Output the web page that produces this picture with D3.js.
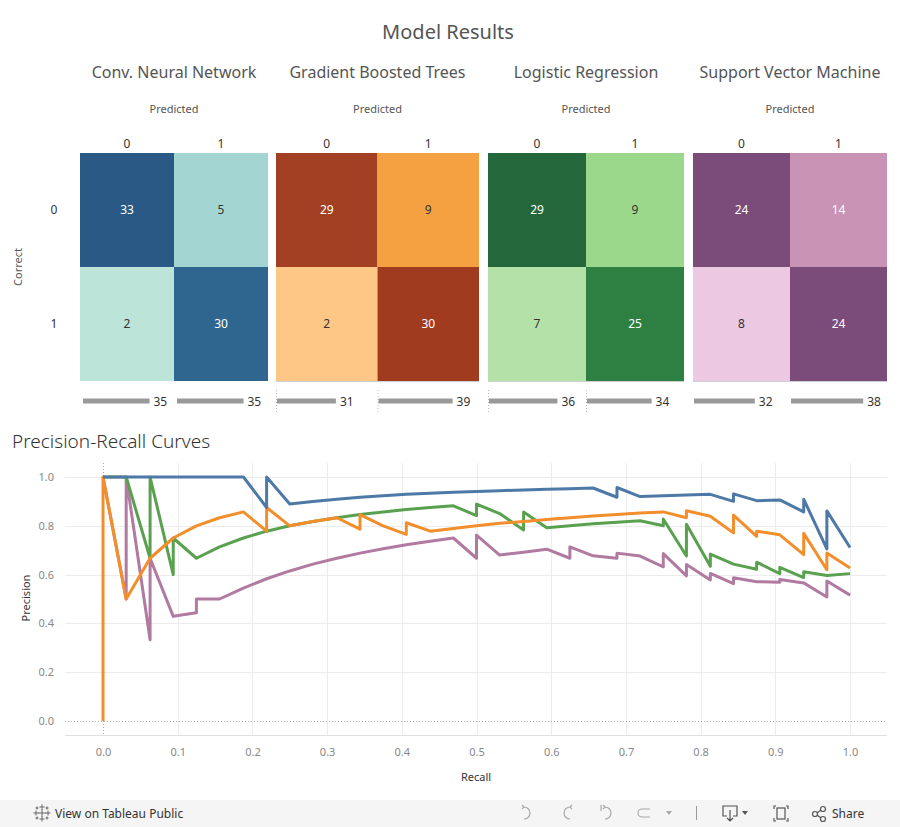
<!DOCTYPE html>
<html><head><meta charset="utf-8">
<script src="https://cdn.jsdelivr.net/npm/d3@7/dist/d3.min.js"></script>
<style>
body{margin:0;background:#fff;}
svg{display:block;font-family:"Noto Sans","Open Sans",sans-serif;}
</style>
</head><body>
<svg id="chart" width="900" height="827"></svg>
<script>
// ---------------- DATA ----------------
const models = ["Conv. Neural Network", "Gradient Boosted Trees", "Logistic Regression", "Support Vector Machine"];
const classes = ["0", "1"];
// confusion matrices, row-major: [correct0/pred0, correct0/pred1, correct1/pred0, correct1/pred1]
const cnnMatrix = [33, 5, 2, 30];
const gbtMatrix = [29, 9, 2, 30];
const lrMatrix  = [29, 9, 7, 25];
const svmMatrix = [24, 14, 8, 24];
// predicted totals per column (bars under each matrix)
const cnnTotals = [35, 35];
const gbtTotals = [31, 39];
const lrTotals  = [36, 34];
const svmTotals = [32, 38];

const xTicks = [0, 0.1, 0.2, 0.3, 0.4, 0.5, 0.6, 0.7, 0.8, 0.9, 1.0];
const yTicks = [0, 0.2, 0.4, 0.6, 0.8, 1.0];

// precision-recall curves: [recall, precision]
const cnnCurve = [[0,1],[0.031,1],[0.063,1],[0.094,1],[0.125,1],[0.156,1],[0.188,1],[0.219,0.875],[0.219,1],
  [0.25,0.889],[0.281,0.9],[0.313,0.909],[0.344,0.917],[0.375,0.923],[0.406,0.929],[0.438,0.933],[0.469,0.938],
  [0.5,0.941],[0.531,0.944],[0.563,0.947],[0.594,0.95],[0.625,0.952],[0.656,0.955],[0.688,0.917],[0.688,0.957],
  [0.719,0.92],[0.75,0.923],[0.781,0.926],[0.813,0.929],[0.844,0.9],[0.844,0.931],[0.875,0.903],[0.906,0.906],
  [0.938,0.857],[0.938,0.909],[0.969,0.705],[0.969,0.861],[1,0.711]];
const gbtCurve = [[0,0],[0,1],[0.031,0.5],[0.063,0.667],[0.094,0.75],[0.125,0.8],[0.156,0.833],[0.188,0.857],
  [0.219,0.778],[0.219,0.875],[0.25,0.8],[0.281,0.818],[0.313,0.833],[0.344,0.786],[0.344,0.846],[0.375,0.8],
  [0.406,0.765],[0.406,0.8125],[0.438,0.778],[0.469,0.789],[0.5,0.8],[0.531,0.81],[0.563,0.818],[0.594,0.826],
  [0.625,0.833],[0.656,0.84],[0.688,0.846],[0.719,0.852],[0.75,0.857],[0.781,0.833],[0.781,0.862],[0.813,0.839],
  [0.844,0.771],[0.844,0.844],[0.875,0.757],[0.875,0.778],[0.906,0.763],[0.938,0.682],[0.938,0.769],
  [0.969,0.62],[0.969,0.689],[1,0.627]];
const lrCurve = [[0,1],[0.031,1],[0.063,0.667],[0.063,1],[0.094,0.6],[0.094,0.75],[0.125,0.667],[0.156,0.714],
  [0.188,0.75],[0.219,0.778],[0.25,0.8],[0.281,0.818],[0.313,0.833],[0.344,0.846],[0.375,0.857],[0.406,0.867],
  [0.438,0.875],[0.469,0.882],[0.5,0.842],[0.5,0.889],[0.531,0.85],[0.563,0.783],[0.563,0.857],[0.594,0.792],
  [0.625,0.8],[0.656,0.808],[0.688,0.815],[0.719,0.821],[0.75,0.8],[0.75,0.828],[0.781,0.676],[0.781,0.806],
  [0.813,0.634],[0.813,0.684],[0.844,0.643],[0.875,0.622],[0.875,0.651],[0.906,0.604],[0.906,0.63],
  [0.938,0.588],[0.938,0.612],[0.969,0.596],[1,0.604]];
const svmCurve = [[0,1],[0.031,0.5],[0.031,1],[0.063,0.333],[0.063,0.667],[0.094,0.429],[0.125,0.444],[0.125,0.5],
  [0.156,0.5],[0.188,0.545],[0.219,0.583],[0.25,0.615],[0.281,0.643],[0.313,0.667],[0.344,0.688],[0.375,0.706],
  [0.406,0.722],[0.438,0.737],[0.469,0.75],[0.5,0.667],[0.5,0.762],[0.531,0.68],[0.563,0.692],[0.594,0.704],
  [0.625,0.667],[0.625,0.714],[0.656,0.677],[0.688,0.667],[0.688,0.688],[0.719,0.676],[0.75,0.632],[0.75,0.686],
  [0.781,0.595],[0.781,0.641],[0.813,0.578],[0.813,0.605],[0.844,0.563],[0.844,0.587],[0.875,0.571],
  [0.906,0.569],[0.906,0.58],[0.938,0.566],[0.969,0.508],[0.969,0.574],[1,0.516]];

// ---------------- STYLE / LAYOUT ----------------
const matrices = [cnnMatrix, gbtMatrix, lrMatrix, svmMatrix];
const totals = [cnnTotals, gbtTotals, lrTotals, svmTotals];
const curves = [cnnCurve, gbtCurve, lrCurve, svmCurve];
const cellColors = [
  ["#2b5985", "#a3d6d3", "#bce4d9", "#2e6690"],
  ["#a33f22", "#f5a142", "#fec786", "#a03b20"],
  ["#23673b", "#9bd88b", "#b4e1a7", "#2e8042"],
  ["#7b4c79", "#c893b5", "#ecc8e3", "#7b4c79"]
];
const cellText = [
  ["#fff", "#333", "#333", "#fff"],
  ["#fff", "#333", "#333", "#fff"],
  ["#fff", "#333", "#333", "#fff"],
  ["#fff", "#fff", "#333", "#fff"]
];
const lineColors = ["#4e79a7", "#f28e2b", "#59a14f", "#b07aa1"];
const panelEdges = [[80, 268], [276, 479], [488, 684], [693, 887]];

const svg = d3.select("#chart");

// Title
svg.append("text").attr("x", 448).attr("y", 39).attr("text-anchor", "middle")
  .attr("font-size", 20).attr("fill", "#555").text("Model Results");

// Row axis label
svg.append("text").attr("transform", "translate(22,267) rotate(-90)").attr("text-anchor", "middle")
  .attr("font-size", 11).attr("fill", "#555").text("Correct");

const yBand = d3.scaleBand().domain(classes).range([153, 381]);
classes.forEach(c => {
  svg.append("text").attr("x", 54).attr("y", yBand(c) + yBand.bandwidth() / 2 + 4)
    .attr("text-anchor", "middle").attr("font-size", 12).attr("fill", "#333").text(c);
});

const barScale = d3.scaleLinear().domain([0, 40]).range([0, 76]);

models.forEach((m, i) => {
  const [x0, x1] = panelEdges[i];
  const xb = d3.scaleBand().domain(classes).range([x0, x1]);
  const cx = (x0 + x1) / 2;
  svg.append("text").attr("x", cx).attr("y", 78).attr("text-anchor", "middle")
    .attr("font-size", 16).attr("fill", "#555").text(m);
  svg.append("text").attr("x", cx).attr("y", 113).attr("text-anchor", "middle")
    .attr("font-size", 11).attr("fill", "#555").text("Predicted");
  classes.forEach(c => {
    svg.append("text").attr("x", xb(c) + xb.bandwidth() / 2).attr("y", 148).attr("text-anchor", "middle")
      .attr("font-size", 12).attr("fill", "#333").text(c);
  });
  const cells = [];
  classes.forEach((r, ri) => classes.forEach((c, ci) => cells.push({ r, c, v: matrices[i][ri * 2 + ci], k: ri * 2 + ci })));
  const g = svg.append("g");
  g.selectAll("rect").data(cells).join("rect")
    .attr("x", d => xb(d.c)).attr("y", d => yBand(d.r))
    .attr("width", xb.bandwidth()).attr("height", yBand.bandwidth())
    .attr("fill", d => cellColors[i][d.k]);
  g.selectAll("text").data(cells).join("text")
    .attr("x", d => xb(d.c) + xb.bandwidth() / 2).attr("y", d => yBand(d.r) + yBand.bandwidth() / 2 + 4)
    .attr("text-anchor", "middle").attr("font-size", 12)
    .attr("fill", d => cellText[i][d.k]).text(d => d.v);
  if (i > 0) {
    svg.append("line").attr("x1", x0).attr("x2", x1).attr("y1", 381.5).attr("y2", 381.5)
      .attr("stroke", "#cfcfcf").attr("stroke-width", 1);
  }
  // bars
  classes.forEach((c, ci) => {
    const bx = xb(c) + (i === 0 ? 3 : 1);
    if (i === 1 || i === 2) {
      svg.append("line").attr("x1", xb(c) + 0.5).attr("x2", xb(c) + 0.5).attr("y1", 390).attr("y2", 412)
        .attr("stroke", "#bbb").attr("stroke-dasharray", "1,2");
    }
    svg.append("rect").attr("x", bx).attr("y", 398.5).attr("width", barScale(totals[i][ci])).attr("height", 5)
      .attr("fill", "#999");
    svg.append("text").attr("x", bx + barScale(totals[i][ci]) + 4).attr("y", 406)
      .attr("font-size", 12).attr("fill", "#333").text(totals[i][ci]);
  });
});

// ---------------- PR CURVES ----------------
svg.append("text").attr("x", 12).attr("y", 448).attr("font-size", 19).attr("fill", "#333")
  .attr("font-weight", 300).text("Precision-Recall Curves");

const x = d3.scaleLinear().domain([-0.0509, 1.0495]).range([65, 887]);
const y = d3.scaleLinear().domain([-0.0574, 1.0574]).range([735, 463]);

const grid = svg.append("g");
xTicks.filter(t => t > 0).forEach(t => {
  grid.append("line").attr("x1", Math.round(x(t)) + 0.5).attr("x2", Math.round(x(t)) + 0.5)
    .attr("y1", 463).attr("y2", 735).attr("stroke", "#ececec");
});
yTicks.filter(t => t > 0).forEach(t => {
  grid.append("line").attr("x1", 65).attr("x2", 887).attr("y1", Math.round(y(t)) + 0.5).attr("y2", Math.round(y(t)) + 0.5)
    .attr("stroke", "#ececec");
});
grid.append("line").attr("x1", 65).attr("x2", 887).attr("y1", Math.round(y(0)) + 0.5).attr("y2", Math.round(y(0)) + 0.5)
  .attr("stroke", "#aaa").attr("stroke-dasharray", "1,2");
grid.append("line").attr("x1", Math.round(x(0)) + 0.5).attr("x2", Math.round(x(0)) + 0.5).attr("y1", 463).attr("y2", 735)
  .attr("stroke", "#aaa").attr("stroke-dasharray", "1,2");
grid.append("line").attr("x1", 65).attr("x2", 887).attr("y1", 735.5).attr("y2", 735.5).attr("stroke", "#e0e0e0");

const xAxis = svg.append("g").attr("transform", "translate(0,745)")
  .call(d3.axisBottom(x).tickValues(xTicks).tickFormat(d3.format(".1f")).tickSize(0));
xAxis.select(".domain").remove();
xAxis.selectAll("text").attr("font-size", 11).attr("fill", "#888").attr("font-family", "Noto Sans");

const yAxis = svg.append("g").attr("transform", "translate(57,0)")
  .call(d3.axisLeft(y).tickValues(yTicks).tickFormat(d3.format(".1f")).tickSize(0));
yAxis.select(".domain").remove();
yAxis.selectAll("text").attr("font-size", 11).attr("fill", "#888").attr("font-family", "Noto Sans");

svg.append("text").attr("x", 476).attr("y", 781).attr("text-anchor", "middle")
  .attr("font-size", 11).attr("fill", "#333").text("Recall");
svg.append("text").attr("transform", "translate(30,598) rotate(-90)").attr("text-anchor", "middle")
  .attr("font-size", 11).attr("fill", "#333").text("Precision");

const line = d3.line().x(d => x(d[0])).y(d => y(d[1]));
const order = [3, 2, 1, 0];
order.forEach(i => {
  svg.append("path").datum(curves[i]).attr("d", line).attr("fill", "none")
    .attr("stroke", lineColors[i]).attr("stroke-width", 3).attr("stroke-linejoin", "round");
});

// ---------------- FOOTER ----------------
const f = svg.append("g");
f.append("rect").attr("x", 0).attr("y", 800).attr("width", 900).attr("height", 27).attr("fill", "#f5f5f5");
// tableau logo
const logo = f.append("g").attr("transform", "translate(42,813)").attr("stroke", "#666").attr("stroke-width", 1);
[[0,0,4],[0,-6,2.5],[0,6,2.5],[-6,0,2.5],[6,0,2.5],[-5,-5,1.5],[5,-5,1.5],[-5,5,1.5],[5,5,1.5]].forEach(p => {
  logo.append("line").attr("x1", p[0] - p[2]).attr("x2", p[0] + p[2]).attr("y1", p[1]).attr("y2", p[1]);
  logo.append("line").attr("x1", p[0]).attr("x2", p[0]).attr("y1", p[1] - p[2]).attr("y2", p[1] + p[2]);
});
f.append("text").attr("x", 55).attr("y", 818).attr("font-size", 12).attr("fill", "#333").text("View on Tableau Public");
const ic = f.append("g").attr("fill", "none").attr("stroke", "#aaa").attr("stroke-width", 1.2);
ic.append("path").attr("d", "M524,807 a6,6 0 1 1 0,12 M524,807 l-2,-2 M524,807 l-2,2");
ic.append("path").attr("d", "M570,807 a6,6 0 1 0 0,12 M570,807 l2,-2 M570,807 l2,2");
ic.append("path").attr("d", "M605,807 a6,6 0 1 1 0,12 M605,807 l-2,-2 M605,807 l-2,2 M601,805 v6");
ic.append("path").attr("d", "M650,809 h-8 a4,4 0 0 0 0,8 h8");
f.append("path").attr("d", "M666,811 h6 l-3,4 z").attr("fill", "#aaa");
f.append("line").attr("x1", 696.5).attr("x2", 696.5).attr("y1", 806).attr("y2", 820).attr("stroke", "#999");
const ic2 = f.append("g").attr("fill", "none").attr("stroke", "#555").attr("stroke-width", 1.2);
ic2.append("path").attr("d", "M727,816 h-4 v-10 h14 v10 h-4 M730,810 v11 M727,818 l3,3 l3,-3");
f.append("path").attr("d", "M742,811 h6 l-3,4 z").attr("fill", "#555");
ic2.append("path").attr("d", "M776,806 h-2 v3 M786,806 h2 v3 M776,821 h-2 v-3 M786,821 h2 v-3");
ic2.append("rect").attr("x", 777).attr("y", 808).attr("width", 8).attr("height", 11);
ic2.append("circle").attr("cx", 815).attr("cy", 814).attr("r", 2.5);
ic2.append("circle").attr("cx", 823).attr("cy", 809).attr("r", 2.5);
ic2.append("circle").attr("cx", 823).attr("cy", 819).attr("r", 2.5);
ic2.append("path").attr("d", "M817,813 l4,-3 M817,815 l4,3");
f.append("text").attr("x", 832).attr("y", 818).attr("font-size", 12).attr("fill", "#333").text("Share");
</script>
</body></html>
